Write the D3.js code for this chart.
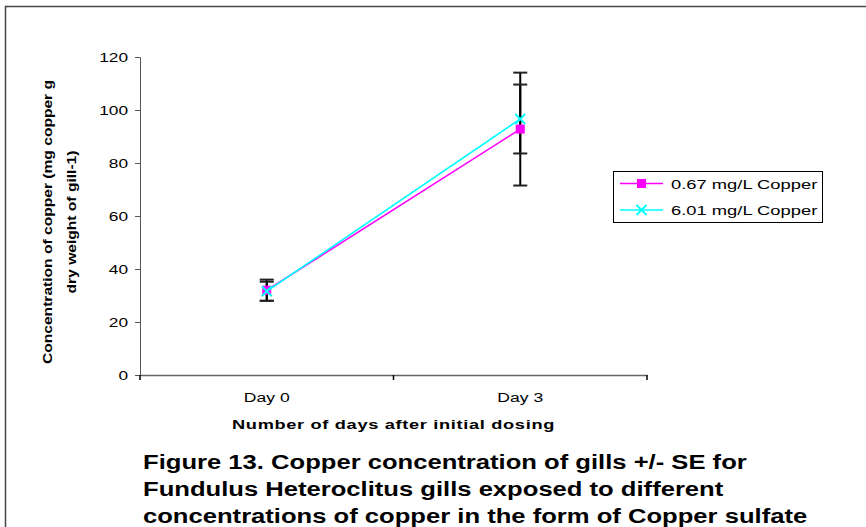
<!DOCTYPE html>
<html>
<head>
<meta charset="utf-8">
<script src="https://cdn.jsdelivr.net/npm/d3@7"></script>
<style>
  body { margin: 0; background: #fff; }
  svg { font-family: "Liberation Sans", Arial, sans-serif; }
</style>
</head>
<body>
<div id="chart"></div>
<script>
const days = ['Day 0', 'Day 3'];
const seriesNames = ['0.67 mg/L Copper', '6.01 mg/L Copper'];
const lowValues = [32, 92.8];
const lowErrors = [4, 21.3];
const highValues = [31.6, 96.6];
const highErrors = [3.6, 13];
const yTicks = [0, 20, 40, 60, 80, 100, 120];
const caption = [
  'Figure 13. Copper concentration of gills +/- SE for',
  'Fundulus Heteroclitus gills exposed to different',
  'concentrations of copper in the form of Copper sulfate'
];

const width = 866, height = 527;
const plot = { left: 140, right: 647, top: 57, bottom: 375 };
// the glyphs in the picture are wider than Arial, so text is stretched along its line
const SX = 1.3;

const svg = d3.select('#chart').append('svg')
  .attr('width', width).attr('height', height);

svg.append('rect')
  .attr('x', 5.5).attr('y', 6.5)
  .attr('width', 900).attr('height', 600)
  .attr('fill', 'none').attr('stroke', '#444').attr('stroke-width', 1.5);

const x = d3.scaleBand().domain(days).range([plot.left, plot.right]);
const y = d3.scaleLinear().domain([0, 120]).range([plot.bottom, plot.top]);

// axes
const yAxis = svg.append('g')
  .attr('transform', 'translate(' + plot.left + ',0)')
  .call(d3.axisLeft(y).tickValues(yTicks).tickSize(5));
yAxis.select('.domain').attr('stroke', '#555');
yAxis.selectAll('.tick line').attr('stroke', '#555');
yAxis.selectAll('text')
  .attr('x', -12 / 1.28)
  .attr('transform', 'scale(1.28,1)')
  .attr('font-size', 13.5).attr('fill', '#000')
  .attr('font-family', '"Liberation Sans", Arial, sans-serif');

const xAxis = svg.append('g')
  .attr('transform', 'translate(0,' + plot.bottom + ')')
  .call(d3.axisBottom(x).tickSize(0).tickPadding(17));
xAxis.select('.domain').attr('stroke', '#666').attr('stroke-width', 1.5);
xAxis.selectAll('text')
  .attr('transform', 'scale(' + SX + ',1)')
  .attr('font-size', 13.5).attr('fill', '#000')
  .attr('font-family', '"Liberation Sans", Arial, sans-serif');

// category boundary ticks
const bounds = [plot.left, plot.left + x.bandwidth(), plot.right];
svg.append('g').selectAll('line').data(bounds).enter().append('line')
  .attr('x1', d => d).attr('x2', d => d)
  .attr('y1', plot.bottom).attr('y2', plot.bottom + 5)
  .attr('stroke', '#000').attr('stroke-width', 1.5);

const cx = d => x(d) + x.bandwidth() / 2;

const series = [
  { name: seriesNames[0], values: lowValues, errors: lowErrors, color: '#ff00ff', marker: 'square' },
  { name: seriesNames[1], values: highValues, errors: highErrors, color: '#00ffff', marker: 'cross' }
];

// error bars
series.forEach(s => {
  const g = svg.append('g');
  days.forEach((d, i) => {
    const lo = y(s.values[i] - s.errors[i]);
    const hi = y(s.values[i] + s.errors[i]);
    g.append('line').attr('x1', cx(d)).attr('x2', cx(d)).attr('y1', lo).attr('y2', hi)
      .attr('stroke', '#000').attr('stroke-width', 2);
    [lo, hi].forEach(v => {
      g.append('line').attr('x1', cx(d) - 7).attr('x2', cx(d) + 7).attr('y1', v).attr('y2', v)
        .attr('stroke', '#222').attr('stroke-width', 2);
    });
  });
});

function drawMarker(g, s, px, py) {
  if (s.marker === 'square') {
    g.append('rect').attr('x', px - 4.5).attr('y', py - 4.5).attr('width', 9).attr('height', 9)
      .attr('fill', s.color);
  } else {
    g.append('path')
      .attr('d', 'M' + (px - 5) + ',' + (py - 5) + 'L' + (px + 5) + ',' + (py + 5) +
                 'M' + (px - 5) + ',' + (py + 5) + 'L' + (px + 5) + ',' + (py - 5))
      .attr('stroke', s.color).attr('stroke-width', 1.8);
  }
}

const line = d3.line().x((v, i) => cx(days[i])).y(v => y(v));

series.forEach(s => {
  const g = svg.append('g');
  g.append('path').attr('d', line(s.values))
    .attr('fill', 'none').attr('stroke', s.color).attr('stroke-width', 1.6);
  s.values.forEach((v, i) => drawMarker(g, s, cx(days[i]), y(v)));
});

// legend
const legend = svg.append('g');
legend.append('rect').attr('x', 613.5).attr('y', 171.5).attr('width', 209).attr('height', 51)
  .attr('fill', '#fff').attr('stroke', '#000').attr('stroke-width', 1);
series.forEach((s, i) => {
  const ly = 183.5 + i * 26.5;
  legend.append('line').attr('x1', 620).attr('x2', 663).attr('y1', ly).attr('y2', ly)
    .attr('stroke', s.color).attr('stroke-width', 1.6);
  drawMarker(legend, s, 641.5, ly);
  legend.append('text')
    .attr('transform', 'translate(671,' + (ly + 5) + ') scale(1.36,1)')
    .attr('font-size', 13.5).text(s.name);
});

// axis titles
svg.append('text')
  .attr('transform', 'translate(' + ((plot.left + plot.right) / 2) + ',429) scale(1.35,1)')
  .attr('text-anchor', 'middle').attr('font-weight', 'bold').attr('font-size', 13.5)
  .attr('letter-spacing', 0.5)
  .text('Number of days after initial dosing');

const yTitle = svg.append('text')
  .attr('transform', 'translate(0,222) rotate(-90) scale(' + SX + ',1)')
  .attr('text-anchor', 'middle').attr('font-weight', 'bold').attr('font-size', 12);
yTitle.append('tspan').attr('x', 0).attr('y', 52).text('Concentration of copper (mg copper g');
yTitle.append('tspan').attr('x', 0).attr('y', 76).text('dry weight of gill-1)');

// caption
svg.append('g').selectAll('text').data(caption).enter().append('text')
  .attr('transform', (d, i) => 'translate(143,' + (469 + i * 27) + ') scale(1.28,1)')
  .attr('font-weight', 'bold').attr('font-size', 20)
  .text(d => d);
</script>
</body>
</html>
